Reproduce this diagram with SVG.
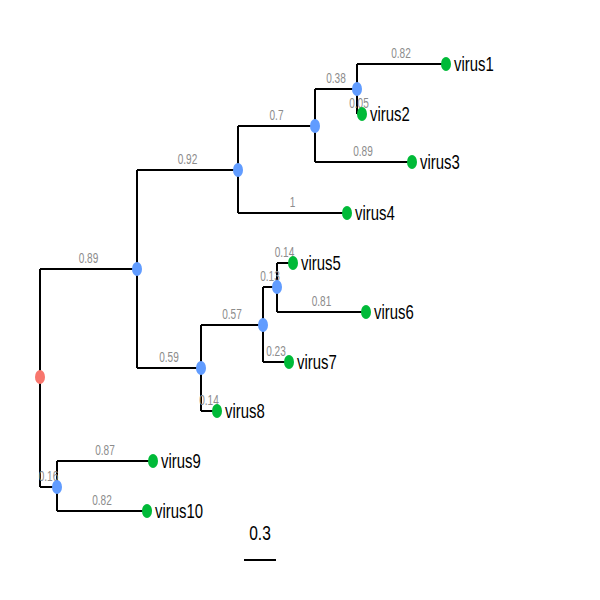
<svg xmlns="http://www.w3.org/2000/svg" width="600" height="600" viewBox="0 0 600 600">
<style>
.e{fill:none;stroke:#000;stroke-width:2}
.bl{font-family:"Liberation Sans",Arial,sans-serif;font-size:14px;fill:#8c8c8c;text-anchor:middle}
.tl{font-family:"Liberation Sans",Arial,sans-serif;font-size:21px;fill:#000}
.tip{fill:#00BA38}
.int{fill:#619CFF}
.root{fill:#F8766D}
</style>
<rect width="600" height="600" fill="#fff"/>
<g id="connectors">
<path class="e" d="M40,269V487M40,269H137M40,487H57"/>
<path class="e" d="M137,170V368M137,170H238M137,368H201"/>
<path class="e" d="M238,126V213M238,126H315M238,213H347"/>
<path class="e" d="M315,89V162M315,89H357M315,162H411"/>
<path class="e" d="M357,64V114M357,64H445M357,114H361"/>
<path class="e" d="M201,325V411M201,325H263M201,411H217"/>
<path class="e" d="M263,287V362M263,287H277M263,362H289"/>
<path class="e" d="M277,263V312M277,263H292M277,312H366"/>
<path class="e" d="M57,461V511M57,461H153M57,511H147"/>
</g>
<g id="branch-labels">
<text class="bl" transform="translate(88.5 263) scale(0.72 1)">0.89</text>
<text class="bl" transform="translate(48.5 481) scale(0.72 1)">0.16</text>
<text class="bl" transform="translate(105 455) scale(0.72 1)">0.87</text>
<text class="bl" transform="translate(102 505) scale(0.72 1)">0.82</text>
<text class="bl" transform="translate(187.5 164) scale(0.72 1)">0.92</text>
<text class="bl" transform="translate(169 362) scale(0.72 1)">0.59</text>
<text class="bl" transform="translate(276.5 120) scale(0.72 1)">0.7</text>
<text class="bl" transform="translate(292.5 207) scale(0.72 1)">1</text>
<text class="bl" transform="translate(336 83) scale(0.72 1)">0.38</text>
<text class="bl" transform="translate(363 156) scale(0.72 1)">0.89</text>
<text class="bl" transform="translate(401 58) scale(0.72 1)">0.82</text>
<text class="bl" transform="translate(359 108) scale(0.72 1)">0.05</text>
<text class="bl" transform="translate(232 319) scale(0.72 1)">0.57</text>
<text class="bl" transform="translate(209 405) scale(0.72 1)">0.14</text>
<text class="bl" transform="translate(270 281) scale(0.72 1)">0.13</text>
<text class="bl" transform="translate(276 356) scale(0.72 1)">0.23</text>
<text class="bl" transform="translate(284.5 257) scale(0.72 1)">0.14</text>
<text class="bl" transform="translate(321.5 306) scale(0.72 1)">0.81</text>
</g>
<g id="root"><ellipse class="root" cx="40" cy="377" rx="5" ry="7"/></g>
<g id="n-A"><ellipse class="int" cx="137" cy="269" rx="5" ry="7"/></g>
<g id="n-B"><ellipse class="int" cx="238" cy="170" rx="5" ry="7"/></g>
<g id="n-C"><ellipse class="int" cx="315" cy="126" rx="5" ry="7"/></g>
<g id="n-D"><ellipse class="int" cx="357" cy="89" rx="5" ry="7"/></g>
<g id="n-E"><ellipse class="int" cx="201" cy="368" rx="5" ry="7"/></g>
<g id="n-F"><ellipse class="int" cx="263" cy="325" rx="5" ry="7"/></g>
<g id="n-G"><ellipse class="int" cx="277" cy="287" rx="5" ry="7"/></g>
<g id="n-H"><ellipse class="int" cx="57" cy="487" rx="5" ry="7"/></g>
<g id="virus1"><ellipse class="tip" cx="446" cy="64" rx="5" ry="7"/><text class="tl" transform="translate(454 71) scale(0.71 1)">virus1</text></g>
<g id="virus2"><ellipse class="tip" cx="362" cy="114" rx="5" ry="7"/><text class="tl" transform="translate(370 121) scale(0.71 1)">virus2</text></g>
<g id="virus3"><ellipse class="tip" cx="412" cy="162" rx="5" ry="7"/><text class="tl" transform="translate(420 169) scale(0.71 1)">virus3</text></g>
<g id="virus4"><ellipse class="tip" cx="347" cy="213" rx="5" ry="7"/><text class="tl" transform="translate(355 220) scale(0.71 1)">virus4</text></g>
<g id="virus5"><ellipse class="tip" cx="293" cy="263" rx="5" ry="7"/><text class="tl" transform="translate(301 270) scale(0.71 1)">virus5</text></g>
<g id="virus6"><ellipse class="tip" cx="366" cy="312" rx="5" ry="7"/><text class="tl" transform="translate(374 319) scale(0.71 1)">virus6</text></g>
<g id="virus7"><ellipse class="tip" cx="289" cy="362" rx="5" ry="7"/><text class="tl" transform="translate(297 369) scale(0.71 1)">virus7</text></g>
<g id="virus8"><ellipse class="tip" cx="217" cy="411" rx="5" ry="7"/><text class="tl" transform="translate(225 418) scale(0.71 1)">virus8</text></g>
<g id="virus9"><ellipse class="tip" cx="153" cy="461" rx="5" ry="7"/><text class="tl" transform="translate(161 468) scale(0.71 1)">virus9</text></g>
<g id="virus10"><ellipse class="tip" cx="147" cy="511" rx="5" ry="7"/><text class="tl" transform="translate(155 518) scale(0.71 1)">virus10</text></g>
<g id="scale-bar">
<line x1="244" y1="560" x2="276" y2="560" stroke="#000" stroke-width="2"/>
<text class="tl" text-anchor="middle" font-size="17" transform="translate(260 540) scale(0.74 1)">0.3</text>
</g>
</svg>
